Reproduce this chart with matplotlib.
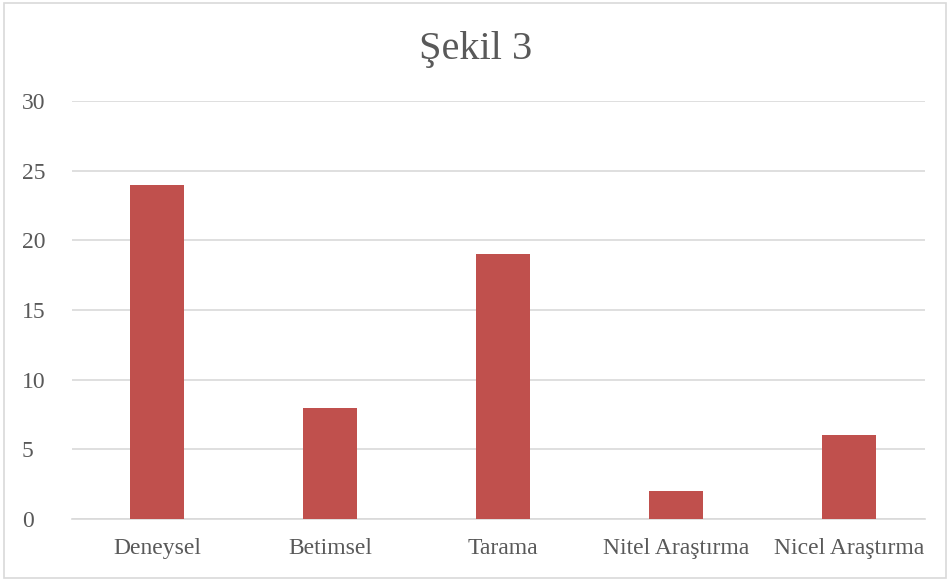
import matplotlib
matplotlib.use("Agg")
import matplotlib.pyplot as plt
from matplotlib.patches import Rectangle

categories = ["Deneysel", "Betimsel", "Tarama", "Nitel Araştırma", "Nicel Araştırma"]
values = [24, 8, 19, 2, 6]
yticks = [0, 5, 10, 15, 20, 25, 30]
title = "Şekil 3"

plt.rcParams['font.family'] = ['Liberation Serif', 'DejaVu Serif']

fig = plt.figure(figsize=(9.52, 5.81), dpi=100)
fig.patches.append(Rectangle((4/952, 3/581), 942/952, 575/581, transform=fig.transFigure,
                             fill=False, edgecolor="#D9D9D9", linewidth=1.2))

ax = fig.add_axes([72/952, 1 - 519/581, 853/952, 418/581])
x = range(len(categories))
ax.bar(x, values, width=0.312, color="#C0504D", zorder=3)
ax.set_xlim(-0.491, 4.439)
ax.set_ylim(0, 30)
ax.set_yticks(yticks)
ax.set_xticks(list(x))
ax.set_xticklabels(categories)
ax.yaxis.grid(True, color="#D9D9D9", linewidth=1.2, zorder=0)
for s in ["top", "right", "left"]:
    ax.spines[s].set_visible(False)
ax.spines["bottom"].set_color("#D9D9D9")
ax.spines["bottom"].set_linewidth(1.2)
ax.tick_params(axis="both", length=0, labelsize=17, colors="#595959")
ax.tick_params(axis="x", pad=14)
ax.tick_params(axis="y", pad=36)
for lab in ax.get_yticklabels():
    lab.set_horizontalalignment("left")

fig.text(0.5, 1 - 50/581, title, ha="center", va="center", fontsize=29, color="#595959")

fig.savefig("out.png", dpi=100)
